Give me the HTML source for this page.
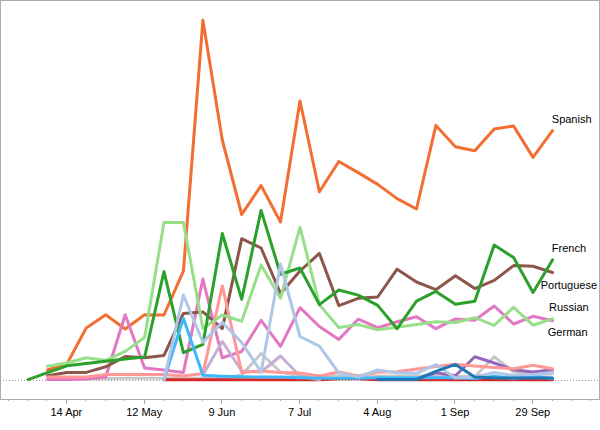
<!DOCTYPE html>
<html><head><meta charset="utf-8"><title>Chart</title>
<style>
html,body{margin:0;padding:0;background:#fff;}
body{width:600px;height:430px;overflow:hidden;font-family:"Liberation Sans",sans-serif;}
svg{display:block;}
text{font-family:"Liberation Sans",sans-serif;font-size:11px;fill:#000;}
.l{fill:none;stroke-linejoin:round;stroke-linecap:round;}
</style></head><body>
<svg width="600" height="430" viewBox="0 0 600 430">
<rect x="0" y="0" width="600" height="430" fill="#fff"/>
<rect x="0" y="0" width="600" height="1" fill="#aaaaaa"/>
<rect x="0" y="0" width="1" height="400" fill="#aaaaaa"/>
<rect x="599" y="0" width="1" height="400" fill="#aaaaaa"/>
<rect x="0" y="399" width="600" height="1" fill="#aaaaaa"/>
<line x1="3" y1="380.5" x2="599" y2="380.5" stroke="#999999" stroke-width="1" stroke-dasharray="1,2" shape-rendering="crispEdges"/>
<polyline class="l" stroke="#f36e32" stroke-width="3" points="47.5,369.9 66.9,364.0 86.3,327.9 105.7,314.8 125.2,329.0 144.6,314.8 164.0,315.0 183.4,271.2 202.9,20.2 222.3,140.0 241.7,214.5 261.1,185.6 280.5,222.0 300.0,101.0 319.4,191.7 338.8,161.5 358.2,172.6 377.7,184.4 397.1,198.6 416.5,209.0 435.9,125.4 455.4,146.7 474.8,150.7 494.2,129.0 513.6,126.0 533.0,157.4 552.5,130.6"/>
<polyline class="l" stroke="#c7c7c7" stroke-width="3" points="86.3,379.0 105.7,378.4 125.2,378.3 144.6,378.3 164.0,378.3 183.4,378.3 202.9,378.3 222.3,378.0 241.7,375.0 261.1,353.5 280.5,372.0 300.0,376.0 319.4,376.0 338.8,376.0 358.2,376.0 377.7,376.0 397.1,376.0 416.5,376.0 435.9,376.0 455.4,376.0 474.8,376.7 494.2,356.8 513.6,372.0 533.0,374.5 552.5,374.0"/>
<polyline class="l" stroke="#d62728" stroke-width="3" points="164.0,379.8 183.4,379.8 202.9,379.8 222.3,379.8 241.7,379.8 261.1,379.8 280.5,379.8 300.0,379.8 319.4,379.8 338.8,378.7 358.2,378.7 377.7,379.8 397.1,379.8 416.5,379.8 435.9,379.8 455.4,379.8 474.8,379.8 494.2,379.8 513.6,379.8 533.0,379.8 552.5,379.8"/>
<polyline class="l" stroke="#e377c2" stroke-width="3" points="47.5,379.6 66.9,379.5 86.3,379.0 105.7,377.0 125.2,314.8 144.6,368.0 164.0,370.0 183.4,372.4 202.9,279.0 222.3,357.8 241.7,351.5 261.1,320.3 280.5,346.4 300.0,307.7 319.4,326.5 338.8,339.4 358.2,319.2 377.7,327.7 397.1,321.8 416.5,316.8 435.9,328.7 455.4,318.9 474.8,320.3 494.2,306.0 513.6,324.0 533.0,316.3 552.5,320.8"/>
<polyline class="l" stroke="#8c564b" stroke-width="3" points="47.5,375.7 66.9,372.4 86.3,372.4 105.7,366.8 125.2,356.5 144.6,357.8 164.0,355.4 183.4,313.4 202.9,311.9 222.3,328.6 241.7,238.7 261.1,248.0 280.5,293.5 300.0,271.0 319.4,253.4 338.8,305.6 358.2,298.3 377.7,297.0 397.1,269.2 416.5,282.0 435.9,289.7 455.4,275.7 474.8,288.6 494.2,280.4 513.6,265.6 533.0,266.3 552.5,272.5"/>
<polyline class="l" stroke="#c5b0d5" stroke-width="3" points="202.9,375.0 222.3,341.5 241.7,371.0 261.1,372.0 280.5,356.0 300.0,376.0 319.4,379.8"/>
<polyline class="l" stroke="#9467bd" stroke-width="3" points="416.5,379.0 435.9,372.7 455.4,375.8 474.8,356.7 494.2,363.0 513.6,369.8 533.0,372.1 552.5,369.8"/>
<polyline class="l" stroke="#ff9896" stroke-width="3" points="47.5,377.0 66.9,377.0 86.3,377.0 105.7,374.5 125.2,374.5 144.6,374.5 164.0,374.5 183.4,376.0 202.9,373.6 222.3,285.7 241.7,372.4 261.1,371.0 280.5,372.5 300.0,373.0 319.4,376.0 338.8,372.0 358.2,376.0 377.7,372.0 397.1,371.7 416.5,369.0 435.9,366.5 455.4,364.3 474.8,366.0 494.2,367.5 513.6,368.7 533.0,365.3 552.5,368.7"/>
<polyline class="l" stroke="#98df8a" stroke-width="3" points="47.5,366.3 66.9,363.0 86.3,357.8 105.7,360.4 125.2,351.4 144.6,337.4 164.0,222.4 183.4,222.4 202.9,328.6 222.3,315.0 241.7,321.3 261.1,265.0 280.5,298.3 300.0,227.2 319.4,304.6 338.8,327.6 358.2,324.5 377.7,329.8 397.1,327.3 416.5,324.6 435.9,321.8 455.4,322.5 474.8,317.7 494.2,325.3 513.6,307.3 533.0,325.2 552.5,318.8"/>
<polyline class="l" stroke="#2ca02c" stroke-width="3" points="28.1,379.6 47.5,372.7 66.9,365.8 86.3,363.5 105.7,361.3 125.2,359.0 144.6,357.0 164.0,271.6 183.4,352.7 202.9,344.3 222.3,233.5 241.7,299.3 261.1,210.4 280.5,274.3 300.0,268.0 319.4,304.6 338.8,290.0 358.2,295.1 377.7,305.4 397.1,328.7 416.5,301.2 435.9,291.4 455.4,304.3 474.8,301.2 494.2,245.1 513.6,257.6 533.0,292.5 552.5,259.9"/>
<polyline class="l" stroke="#3cb9fb" stroke-width="3" points="164.0,379.6 183.4,318.2 202.9,375.3 222.3,376.2 241.7,376.8 261.1,377.0 280.5,377.1 300.0,377.8 319.4,378.2 338.8,378.2 358.2,378.2 377.7,377.8 397.1,377.8 416.5,377.8 435.9,377.8 455.4,377.8 474.8,378.5 494.2,376.3 513.6,378.5 533.0,376.3 552.5,378.5"/>
<polyline class="l" stroke="#aec7e8" stroke-width="3" points="164.0,380.0 183.4,295.0 202.9,342.3 222.3,322.4 241.7,342.5 261.1,372.0 280.5,264.0 300.0,336.5 319.4,346.2 338.8,373.0 358.2,377.0 377.7,370.0 397.1,372.8 416.5,373.3 435.9,364.6 455.4,378.0 474.8,377.0 494.2,372.5 513.6,375.5 533.0,374.5 552.5,372.5"/>
<polyline class="l" stroke="#1f77b4" stroke-width="3" points="377.7,379.6 397.1,379.6 416.5,379.5 435.9,371.4 455.4,364.4 474.8,377.0 494.2,378.0 513.6,378.0 533.0,378.0 552.5,378.0"/>
<rect x="8" y="400" width="1" height="1" fill="#aaaaaa"/>
<rect x="27" y="400" width="1" height="1" fill="#aaaaaa"/>
<rect x="46" y="400" width="1" height="1" fill="#aaaaaa"/>
<rect x="66" y="400" width="1" height="4" fill="#aaaaaa"/>
<rect x="85" y="400" width="1" height="1" fill="#aaaaaa"/>
<rect x="105" y="400" width="1" height="1" fill="#aaaaaa"/>
<rect x="124" y="400" width="1" height="1" fill="#aaaaaa"/>
<rect x="144" y="400" width="1" height="4" fill="#aaaaaa"/>
<rect x="163" y="400" width="1" height="1" fill="#aaaaaa"/>
<rect x="182" y="400" width="1" height="1" fill="#aaaaaa"/>
<rect x="202" y="400" width="1" height="1" fill="#aaaaaa"/>
<rect x="221" y="400" width="1" height="4" fill="#aaaaaa"/>
<rect x="241" y="400" width="1" height="1" fill="#aaaaaa"/>
<rect x="260" y="400" width="1" height="1" fill="#aaaaaa"/>
<rect x="280" y="400" width="1" height="1" fill="#aaaaaa"/>
<rect x="299" y="400" width="1" height="4" fill="#aaaaaa"/>
<rect x="318" y="400" width="1" height="1" fill="#aaaaaa"/>
<rect x="338" y="400" width="1" height="1" fill="#aaaaaa"/>
<rect x="357" y="400" width="1" height="1" fill="#aaaaaa"/>
<rect x="377" y="400" width="1" height="4" fill="#aaaaaa"/>
<rect x="396" y="400" width="1" height="1" fill="#aaaaaa"/>
<rect x="416" y="400" width="1" height="1" fill="#aaaaaa"/>
<rect x="435" y="400" width="1" height="1" fill="#aaaaaa"/>
<rect x="454" y="400" width="1" height="4" fill="#aaaaaa"/>
<rect x="474" y="400" width="1" height="1" fill="#aaaaaa"/>
<rect x="493" y="400" width="1" height="1" fill="#aaaaaa"/>
<rect x="513" y="400" width="1" height="1" fill="#aaaaaa"/>
<rect x="532" y="400" width="1" height="4" fill="#aaaaaa"/>
<rect x="552" y="400" width="1" height="1" fill="#aaaaaa"/>
<rect x="571" y="400" width="1" height="1" fill="#aaaaaa"/>
<rect x="590" y="400" width="1" height="1" fill="#aaaaaa"/>
<text x="66.4" y="415.5" text-anchor="middle">14 Apr</text>
<text x="144.2" y="415.5" text-anchor="middle">12 May</text>
<text x="221.9" y="415.5" text-anchor="middle">9 Jun</text>
<text x="299.6" y="415.5" text-anchor="middle">7 Jul</text>
<text x="377.3" y="415.5" text-anchor="middle">4 Aug</text>
<text x="455.0" y="415.5" text-anchor="middle">1 Sep</text>
<text x="532.8" y="415.5" text-anchor="middle">29 Sep</text>
<text x="551.8" y="123">Spanish</text>
<text x="551.8" y="252.4">French</text>
<text x="597" y="288.5" text-anchor="end">Portuguese</text>
<text x="549" y="310.7">Russian</text>
<text x="547.8" y="335.6">German</text>
</svg>
</body></html>
